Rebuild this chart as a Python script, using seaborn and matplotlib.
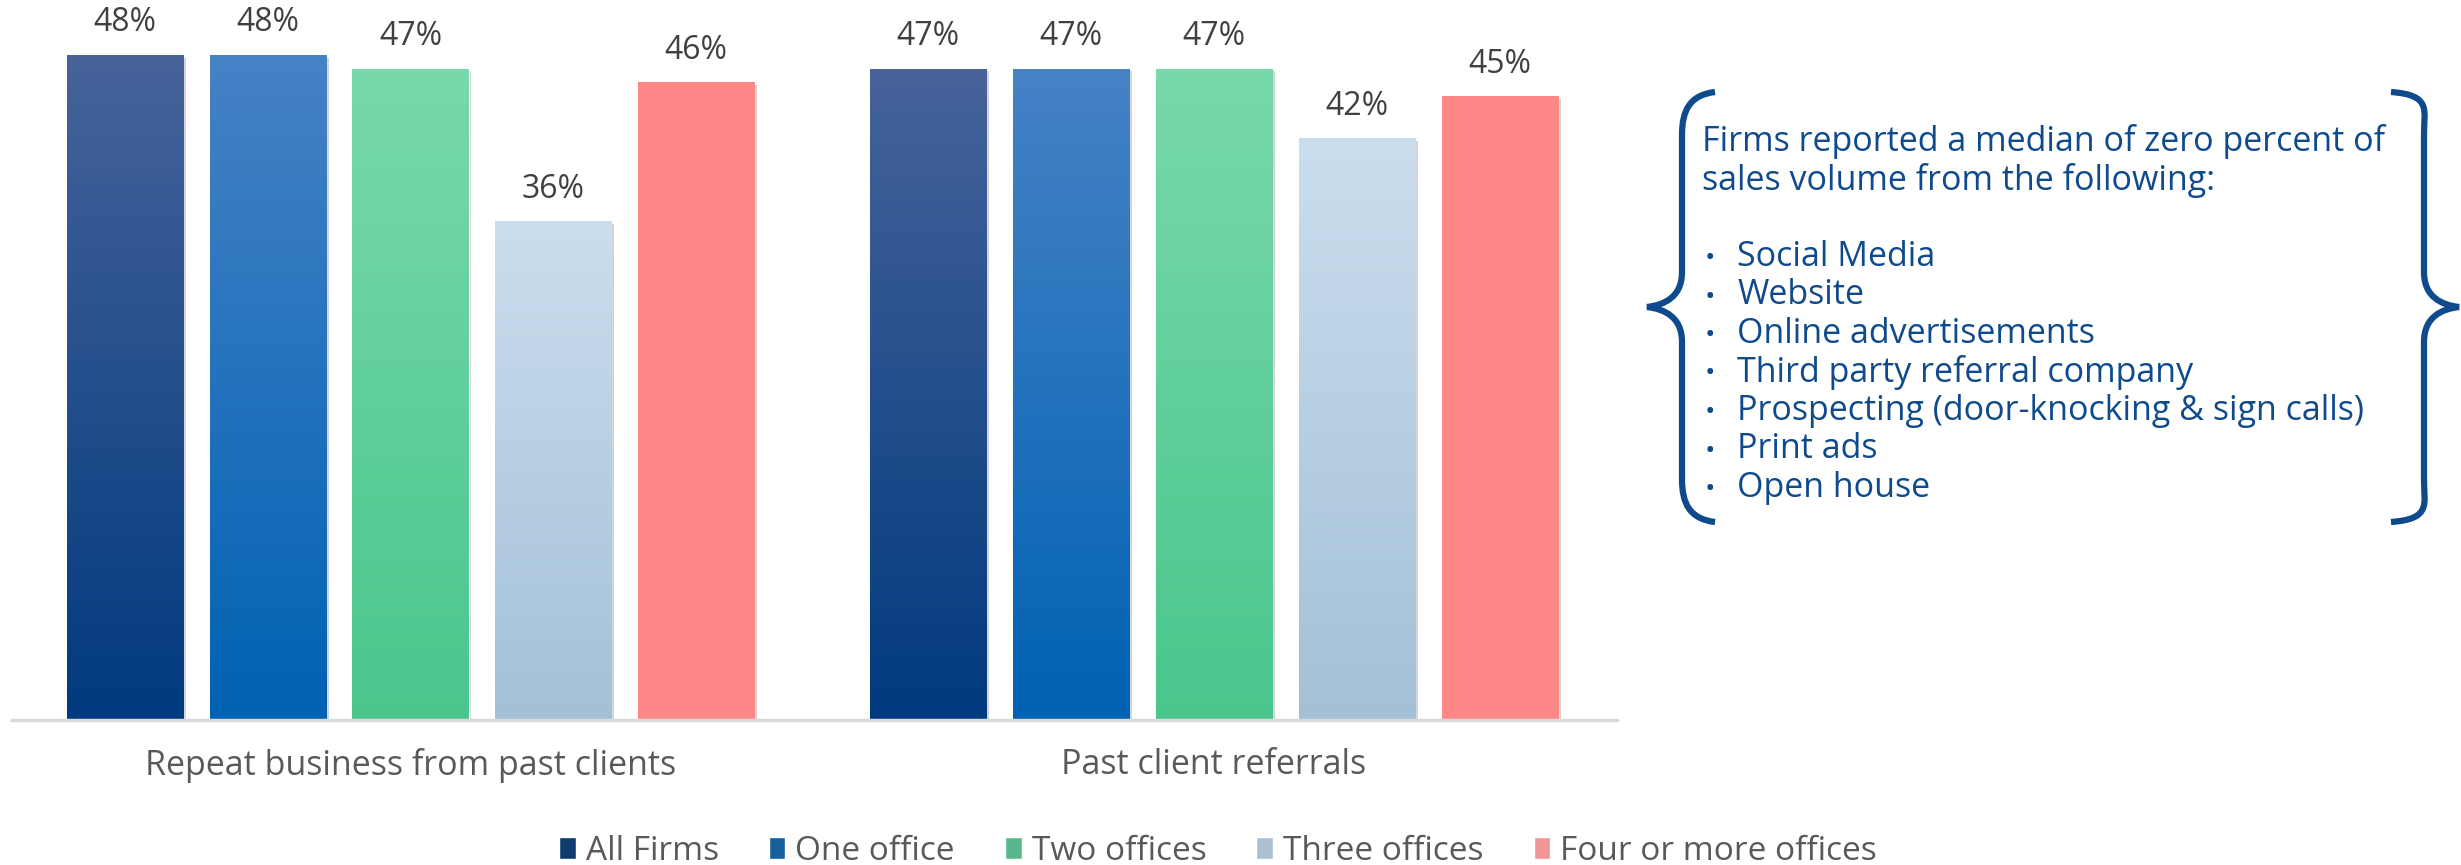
import numpy as np
import pandas as pd
import seaborn as sns
import matplotlib.pyplot as plt
import matplotlib.patheffects as pe
from matplotlib.path import Path
from matplotlib.patches import PathPatch
from matplotlib.colors import LinearSegmentedColormap

# data
categories = ["Repeat business from past clients", "Past client referrals"]
firm_groups = ["All Firms", "One office", "Two offices", "Three offices", "Four or more offices"]
repeat_business = [48, 48, 47, 36, 46]
past_referrals = [47, 47, 47, 42, 45]

note_lines = ["Firms reported a median of zero percent of",
              "sales volume from the following:"]
zero_sources = ["Social Media", "Website", "Online advertisements",
                "Third party referral company",
                "Prospecting (door-knocking & sign calls)", "Print ads", "Open house"]

top_colors = ["#47639A", "#4682C6", "#78D9AA", "#CADEEE", "#FF8886"]
bottom_colors = ["#003A7E", "#0062B3", "#4AC68D", "#A4C0D7", "#FF8886"]
note_color = "#0F4A8C"

df = pd.DataFrame({
    "category": np.repeat(categories, len(firm_groups)),
    "group": firm_groups * len(categories),
    "share": repeat_business + past_referrals,
})

sns.set_theme(style="white")
plt.rcParams["font.family"] = ["Open Sans", "DejaVu Sans"]

W, H = 2461, 865
fig = plt.figure(figsize=(W / 100, H / 100), dpi=100)
ax = fig.add_axes([12 / W, 145 / H, 1605 / W, 720 / H])

sns.barplot(data=df, x="category", y="share", hue="group", palette=bottom_colors,
            width=0.889, gap=0.187, ax=ax)

# vertical gradient on each bar + soft shadow
grad = np.linspace(0, 1, 256).reshape(-1, 1)
for cont, c_top, c_bot in zip(ax.containers, top_colors, bottom_colors):
    cmap = LinearSegmentedColormap.from_list("g", [c_bot, c_top])
    for bar in cont:
        x0, y0 = bar.get_x(), bar.get_y()
        w, h = bar.get_width(), bar.get_height()
        bar.set_path_effects([pe.SimplePatchShadow(offset=(2, -2), shadow_rgbFace="0.4", alpha=0.3),
                              pe.Normal()])
        im = ax.imshow(grad, cmap=cmap, origin="lower", aspect="auto",
                       extent=[x0, x0 + w, y0, y0 + h], zorder=bar.get_zorder() + 0.1)
        im.set_clip_path(bar)
    ax.bar_label(cont, fmt="%d%%", padding=11, fontsize=23, color="#404040")

ax.set_xlim(-0.496, 1.5015)
ax.set_ylim(0, 51.95)
ax.set_xlabel("")
ax.set_ylabel("")
ax.set_yticks([])
for s in ["left", "right", "top"]:
    ax.spines[s].set_visible(False)
ax.spines["bottom"].set_color("#D9D9D9")
ax.spines["bottom"].set_linewidth(2.5)
ax.tick_params(axis="x", length=0, pad=20, labelsize=24.5, labelcolor="#595959")

handles, labels = ax.get_legend_handles_labels()
ax.get_legend().remove()
fig.legend(handles, labels, loc="center", bbox_to_anchor=(1218 / W, 14 / H),
           ncol=5, frameon=False, fontsize=24, labelcolor="#595959",
           handlelength=0.5, handleheight=0.65, handletextpad=0.3, columnspacing=1.5)

# note box with braces, in pixel coordinates
ov = fig.add_axes([0, 0, 1, 1])
ov.set_xlim(0, W)
ov.set_ylim(H, 0)
ov.axis("off")
ov.patch.set_alpha(0)

for i, line in enumerate(note_lines):
    ov.text(1702, 151 + i * 38.5, line, fontsize=24.5, color=note_color, va="baseline")
for i, item in enumerate(zero_sources):
    y = 266 + i * 38.5
    ov.text(1705, y, "•", fontsize=20, color=note_color, va="baseline")
    ov.text(1737, y, item, fontsize=24.5, color=note_color, va="baseline")

def brace(xe, xv, xt):
    verts = [(xe, 92), (xv + 8, 95), (xv, 110), (xv, 135),
             (xv, 272),
             (xv, 297), (xt + (xv - xt) * 0.5, 305), (xt, 307),
             (xt + (xv - xt) * 0.5, 309), (xv, 317), (xv, 342),
             (xv, 479),
             (xv, 504), (xv + 8, 519), (xe, 522)]
    codes = [Path.MOVETO, Path.CURVE4, Path.CURVE4, Path.CURVE4,
             Path.LINETO,
             Path.CURVE4, Path.CURVE4, Path.CURVE4,
             Path.CURVE4, Path.CURVE4, Path.CURVE4,
             Path.LINETO,
             Path.CURVE4, Path.CURVE4, Path.CURVE4]
    ov.add_patch(PathPatch(Path(verts, codes), fill=False, lw=4.5,
                           edgecolor=note_color, capstyle="butt"))

brace(1715, 1682, 1647)
brace(2391, 2424, 2459)

fig.savefig("out.png", dpi=100)
